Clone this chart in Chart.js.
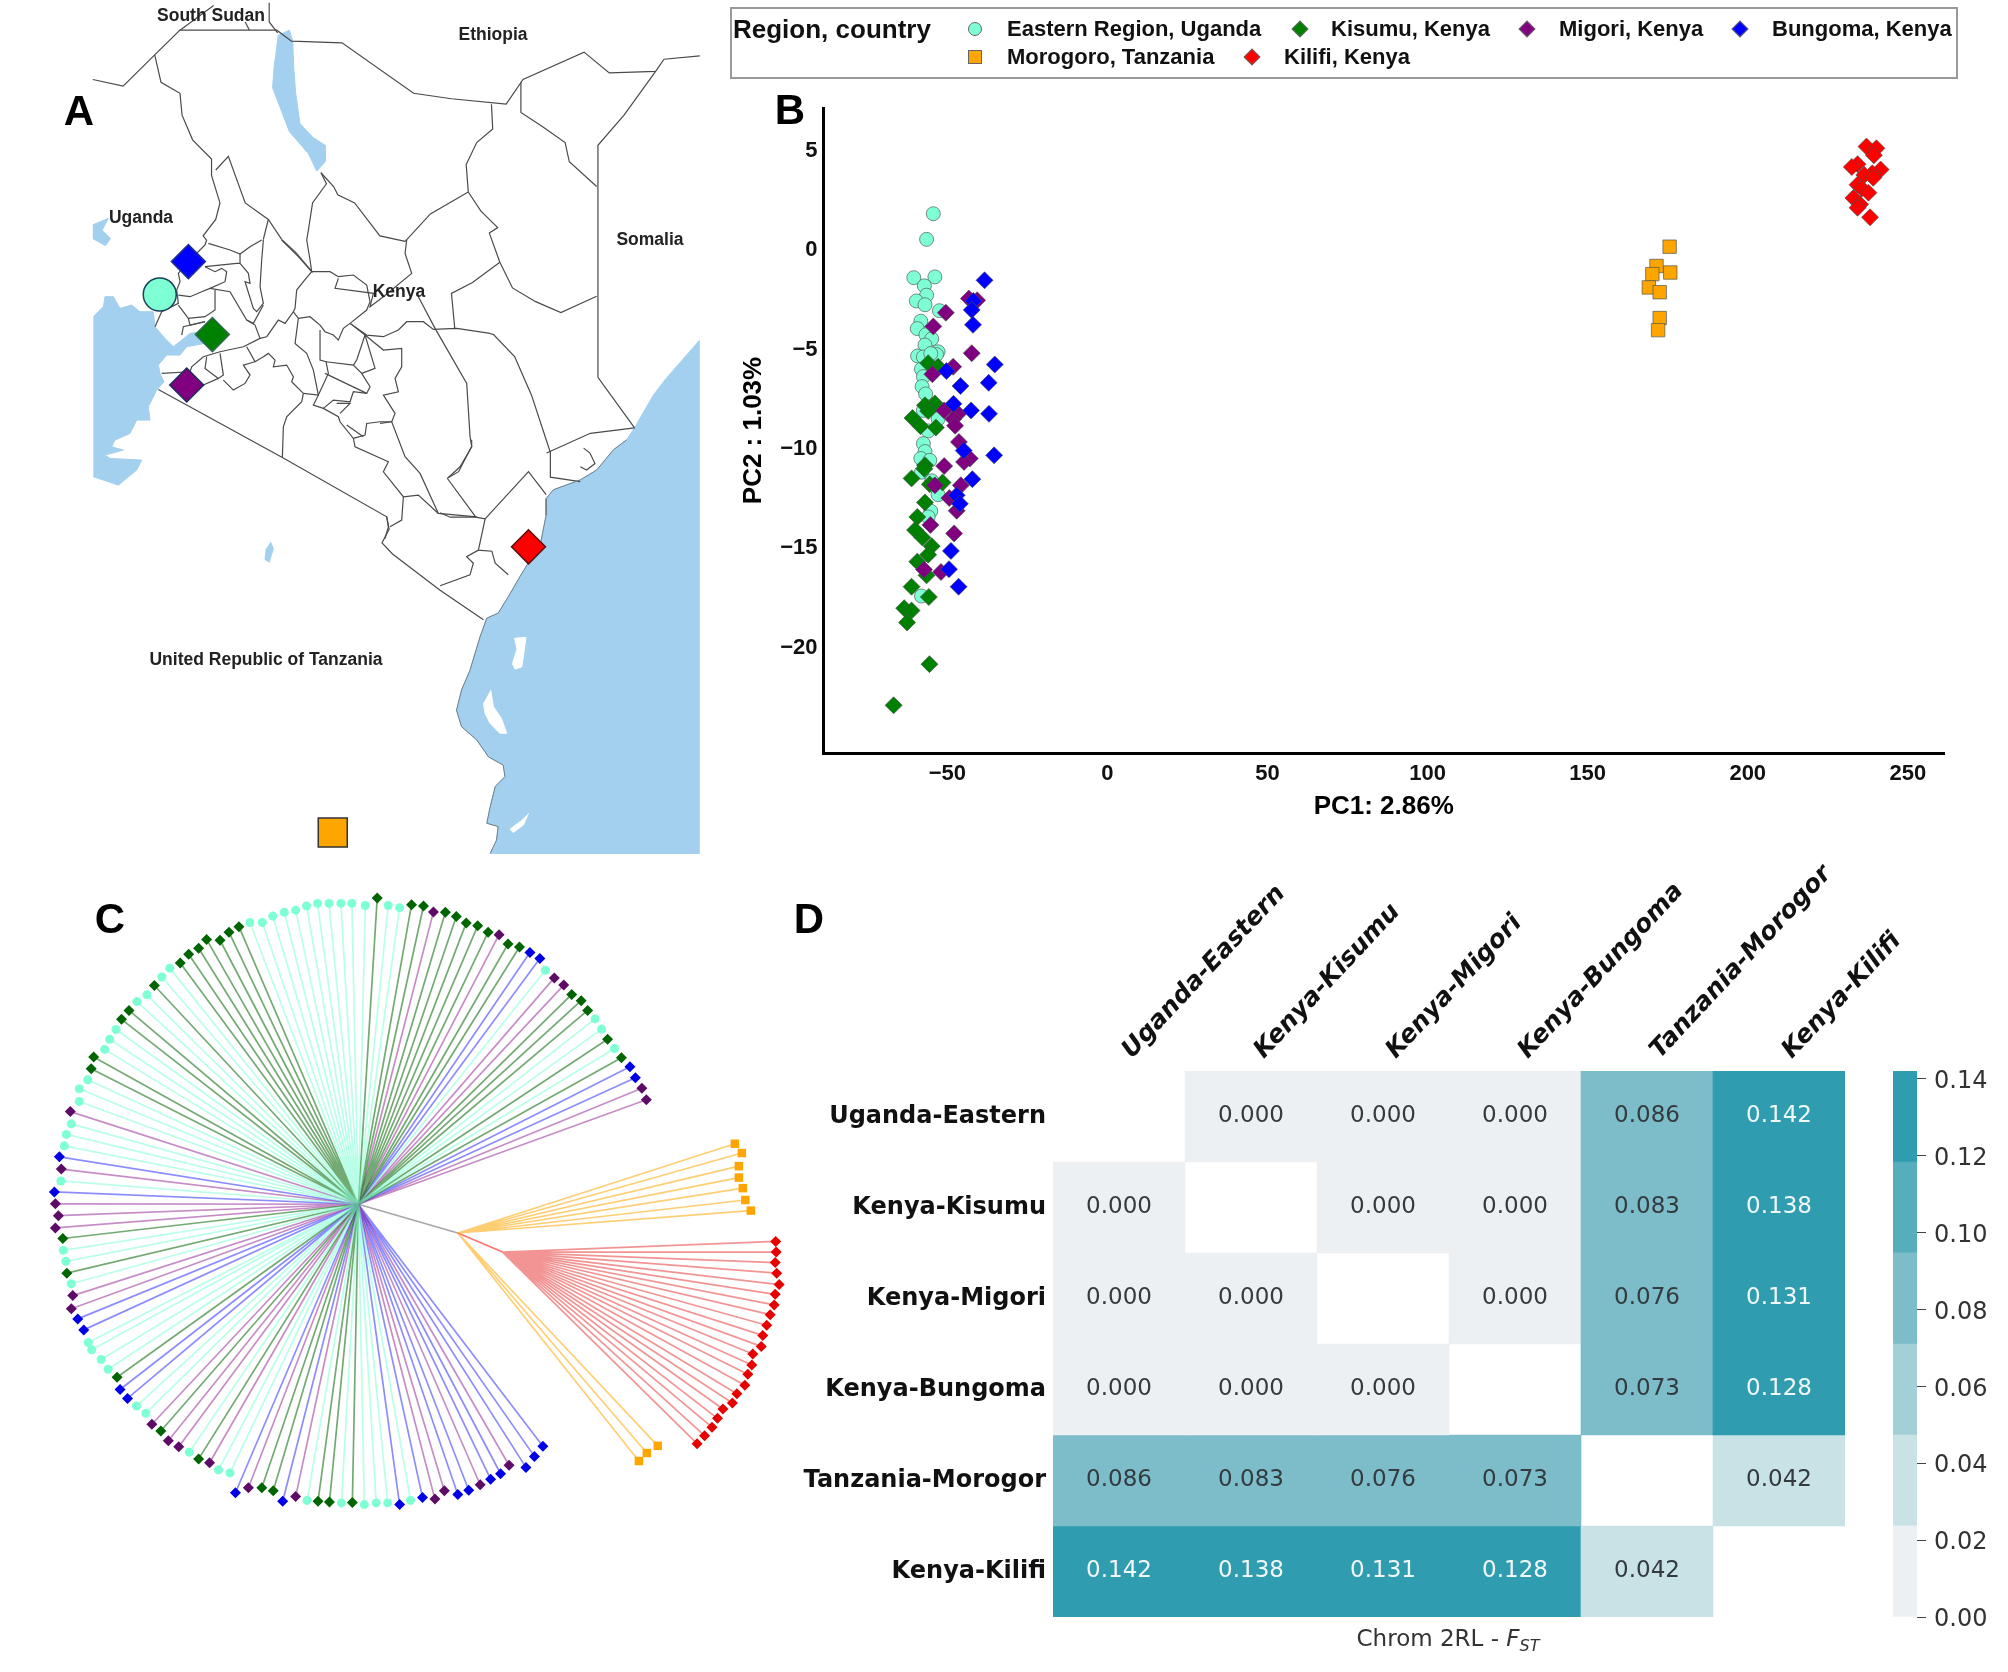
<!DOCTYPE html>
<html>
<head>
<meta charset="utf-8">
<title>Chrom 2RL population structure</title>
<script src="https://cdn.jsdelivr.net/npm/chart.js@4"></script>
<style>
  body { margin: 0; background: #fff; }
  #page { position: relative; width: 2008px; height: 1672px; overflow: hidden; font-family: "Liberation Sans", sans-serif; }
  canvas { position: absolute; }
  .txt { position: absolute; transform: translate(-50%, -50%); white-space: nowrap; font-weight: bold; color: #111; }
  .panel { font-size: 42px; color: #000; }
  .place { font-size: 17.5px; color: #222; }
  #legendBox { position: absolute; left: 730px; top: 7px; width: 1224px; height: 68px; border: 2px solid #999; box-sizing: content-box; }
  .key { position: absolute; white-space: nowrap; font-weight: bold; font-size: 22px; color: #111; transform: translateY(-50%); }
  .mark { position: absolute; transform: translate(-50%, -50%); box-sizing: border-box; border: 1px solid #666; }
  #fstLabel { font: 23px "DejaVu Sans", sans-serif; color: #333; }
  #fstLabel sub { font-size: 16px; }
</style>
</head>
<body>
<div id="page">
  <canvas id="mapChart" width="660" height="860" style="left:60px;top:0"></canvas>
  <canvas id="pcaChart" width="1240" height="740" style="left:730px;top:90px"></canvas>
  <canvas id="treeChart" width="780" height="660" style="left:30px;top:870px"></canvas>
  <canvas id="fstChart" width="1100" height="800" style="left:800px;top:850px"></canvas>
  <canvas id="barChart" width="128" height="590" style="left:1880px;top:1050px"></canvas>
  <div id="legendBox"></div>
  <div class="txt panel" style="left:79px;top:111px">A</div>
  <div class="txt panel" style="left:790px;top:110px">B</div>
  <div class="txt panel" style="left:110px;top:919px">C</div>
  <div class="txt panel" style="left:809px;top:919px">D</div>
  <div class="txt place" style="left:211px;top:15px">South Sudan</div>
  <div class="txt place" style="left:493px;top:34px">Ethiopia</div>
  <div class="txt place" style="left:141px;top:217px">Uganda</div>
  <div class="txt place" style="left:650px;top:239px">Somalia</div>
  <div class="txt place" style="left:399px;top:291px">Kenya</div>
  <div class="txt place" style="left:266px;top:659px">United Republic of Tanzania</div>
  <div class="txt" id="fstLabel" style="left:1448px;top:1640px;font-weight:normal">Chrom 2RL - <i>F<sub>ST</sub></i></div>
</div>
<script>
'use strict';

// ---- panel B, PCA values
const pcXTicks = [-50, 0, 50, 100, 150, 200, 250];
const pcYTicks = [-20, -15, -10, -5, 0, 5];

const pcUganda = [[-54.4,1.84],[-56.5,0.55],[-60.5,-1.38],[-53.9,-1.34],[-57.2,-1.79],[-56.5,-2.26],[-59.7,-2.55],[-57,-2.74],[-52.5,-3.04],[-58.3,-3.57],[-59.4,-3.94],[-56.7,-4.25],[-54.9,-4.46],[-57,-4.77],[-59.3,-5.32],[-57.5,-5.37],[-52.9,-5.11],[-53.4,-5.25],[-55.2,-5.2],[-58.1,-5.98],[-57.5,-6.36],[-57.9,-6.86],[-56.8,-7.23],[-56,-7.88],[-57.5,-8.06],[-52.9,-8.49],[-56,-9.09],[-57.5,-9.73],[-57,-10.13],[-58.3,-10.48],[-55.5,-10.57],[-58.1,-11.17],[-54.9,-11.6],[-52.9,-12.3],[-55.2,-13.13],[-56,-13.42],[-58.1,-17.4]];
const pcKisumu = [[-56,-5.68],[-52.9,-5.86],[-53.9,-7.71],[-57,-7.8],[-56,-8.09],[-60.9,-8.44],[-58.4,-8.85],[-53.6,-8.92],[-57,-10.82],[-57.2,-11],[-61.2,-11.48],[-51.5,-11.69],[-55.5,-11.78],[-57,-12.69],[-59.4,-13.42],[-60.1,-14.08],[-57.8,-14.46],[-54.9,-14.89],[-56,-15.32],[-59.4,-15.67],[-56.5,-16.36],[-61.2,-16.93],[-55.8,-17.45],[-63.5,-18.01],[-61.2,-18.13],[-62.6,-18.73],[-55.6,-20.83],[-66.8,-22.9]];
const pcMigori = [[-43.3,-2.43],[-40.7,-2.52],[-50.5,-3.14],[-54.4,-3.83],[-42.4,-5.18],[-48.2,-5.86],[-54.7,-6.24],[-51,-8.06],[-46.6,-8.23],[-48.2,-8.49],[-47.6,-8.83],[-46.4,-9.65],[-43,-10.48],[-44.8,-10.65],[-51,-10.86],[-53.9,-11.83],[-45.8,-11.83],[-49.4,-12.47],[-47.1,-13.11],[-55.3,-13.82],[-47.9,-14.25],[-57.3,-16.07],[-52,-16.19]];
const pcBungoma = [[-38.4,-1.51],[-41.9,-2.55],[-42.4,-3],[-42,-3.75],[-35.2,-5.75],[-50.3,-6.08],[-37.1,-6.67],[-45.9,-6.83],[-48.1,-7.73],[-42.6,-8.06],[-37,-8.23],[-44.9,-10.08],[-35.4,-10.32],[-42.2,-11.52],[-47.1,-12.33],[-46.1,-12.76],[-48.9,-15.13],[-49.5,-16.05],[-46.5,-16.93]];
const pcMorogoro = [[175.6,0.18],[171.5,-0.79],[170.2,-1.2],[175.8,-1.12],[169.1,-1.87],[172.5,-2.11],[172.5,-3.41],[172,-4.02]];
const pcKilifi = [[237.1,5.22],[240.2,5.13],[239.4,4.78],[234.3,4.33],[232.5,4.19],[241.5,4.06],[238.9,3.87],[236.4,3.79],[239.2,3.65],[234.3,3.3],[235.6,3.11],[237.7,2.9],[233,2.63],[235.1,2.31],[234.3,2.14],[238.2,1.66]];

// ---- panel D, pairwise Fst
const fstNames = ['Uganda-Eastern', 'Kenya-Kisumu', 'Kenya-Migori', 'Kenya-Bungoma', 'Tanzania-Morogor', 'Kenya-Kilifi'];
const fstRow1 = [null, 0.000, 0.000, 0.000, 0.086, 0.142];
const fstRow2 = [0.000, null, 0.000, 0.000, 0.083, 0.138];
const fstRow3 = [0.000, 0.000, null, 0.000, 0.076, 0.131];
const fstRow4 = [0.000, 0.000, 0.000, null, 0.073, 0.128];
const fstRow5 = [0.086, 0.083, 0.076, 0.073, null, 0.042];
const fstRow6 = [0.142, 0.138, 0.131, 0.128, 0.042, null];
const barTicks = [0, 0.02, 0.04, 0.06, 0.08, 0.10, 0.12, 0.14];
const barEdges = [0, 0.0237, 0.0473, 0.071, 0.0947, 0.1183, 0.142];
const barColors = ['#edf0f3', '#c8e2e6', '#a3d0d7', '#7dbcc9', '#56aebd', '#2f9caf'];

// ---- panel C, tree tips (tree units)
const treeRoot = [660, 790];
const treeSplit = [860, 858];
const treeRedRoot = [950, 903];
const tipUganda = [[720,84],[743,89],[1036,237],[1136,352],[1149,376],[1175,422],[674,84],[647,79],[625,79],[601,79],[578,79],[556,85],[534,95],[511,100],[488,109],[467,124],[442,124],[281,232],[265,253],[235,295],[215,311],[173,377],[160,400],[150,424],[116,496],[99,517],[99,547],[83,600],[73,625],[69,652],[62,735],[67,899],[72,925],[83,978],[117,1117],[124,1134],[143,1157],[157,1180],[214,1267],[233,1284],[320,1376],[379,1418],[402,1425],[557,1490],[626,1496],[672,1500],[696,1496],[719,1496],[765,1490]];
const tipKisumu = [[698,66],[767,82],[791,85],[835,100],[857,110],[877,125],[900,132],[921,147],[961,175],[984,182],[1089,294],[1108,309],[1121,332],[1161,400],[1189,444],[420,134],[400,147],[382,166],[355,164],[339,185],[319,199],[302,220],[250,273],[199,332],[184,353],[128,442],[123,470],[66,871],[74,953],[175,1199],[263,1326],[339,1392],[466,1460],[489,1467],[579,1492],[602,1494],[648,1495]];
const tipMigori = [[811,99],[943,153],[1054,255],[1073,272],[1230,516],[1239,543],[81,571],[63,707],[51,789],[57,817],[51,846],[86,1006],[83,1037],[245,1310],[278,1349],[299,1363],[361,1401],[439,1460],[534,1481],[814,1487],[833,1467],[905,1453],[963,1407]];
const tipBungoma = [[1005,195],[1025,209],[1206,465],[1217,491],[59,678],[49,761],[96,1061],[108,1087],[181,1228],[196,1249],[413,1472],[508,1492],[743,1500],[789,1483],[860,1476],[882,1466],[926,1440],[946,1427],[997,1412],[1014,1386],[1031,1362]];
const tipMorogoro = [[1417,647],[1431,669],[1425,700],[1425,727],[1433,752],[1438,780],[1449,805],[1262,1361],[1240,1378],[1224,1397]];
const tipKilifi = [[1499,878],[1500,903],[1498,928],[1501,953],[1506,980],[1498,1003],[1496,1028],[1488,1051],[1481,1076],[1473,1100],[1470,1126],[1453,1144],[1451,1170],[1443,1192],[1437,1218],[1421,1238],[1412,1260],[1393,1274],[1382,1296],[1371,1317],[1356,1337],[1341,1356]];

// ---- panel A, map outlines and sites (map units)
const coastLine = [[1346,802],[1315,820],[1275,857],[1236,875],[1204,884],[1172,893],[1155,909],[1155,939],[1148,966],[1140,997],[1117,1021],[1093,1051],[1065,1088],[1041,1118],[1014,1127],[998,1161],[974,1222],[954,1258],[942,1295],[954,1325],[990,1349],[1018,1380],[1053,1395],[1057,1416],[1034,1434],[1022,1471],[1014,1501],[1041,1507],[1037,1532],[1022,1556]];
const seaNorth = [[1520,620],[1440,690],[1410,720],[1365,780]];
const seaCorner = [[1520,1556]];
const lakeTurkana = [[517,65],[545,55],[553,75],[555,120],[560,170],[570,225],[600,250],[630,265],[630,295],[610,312],[590,280],[545,240],[525,200],[505,160],[510,110]];
const lakeKyoga = [[78,410],[115,398],[100,420],[120,435],[108,448],[78,435]];
const lakeSmall = [[500,988],[507,1000],[497,1025],[487,1020],[490,1000]];
const islandPemba = [[1079,1164],[1107,1162],[1102,1191],[1097,1216],[1081,1220],[1075,1210],[1085,1185]];
const islandZanzibar = [[1023,1258],[1030,1289],[1049,1310],[1061,1337],[1045,1337],[1022,1319],[1010,1301],[1006,1282]];
const islandMafia = [[1113,1483],[1101,1504],[1077,1518],[1069,1512],[1093,1498]];
const mapBorders = [
  [[776,942],[782,965],[765,990],[790,1010],[903,1076],[1006,1130]],
  [[78,145],[150,157],[225,100],[285,55],[515,55],[550,75],[670,78],[840,170],[930,180],[1060,190],[1100,145],[1245,95],[1305,133],[1415,130],[1435,108],[1520,102]],
  [[285,55],[365,10]], [[497,5],[497,40],[517,60]], [[440,40],[450,55]],
  [[225,100],[240,150],[285,170],[290,210],[315,255],[360,290],[360,320],[380,370],[370,400],[340,430],[348,438]],
  [[1415,130],[1340,210],[1278,265],[1278,688],[1365,780]],
  [[1095,150],[1095,205],[1145,230],[1200,260],[1210,295],[1275,340]],
  [[1025,190],[1028,235],[990,260],[965,300],[970,350],[880,390],[820,440]],
  [[970,350],[1000,385],[1040,415],[1020,425],[1045,478],[1075,525],[1130,550],[1190,570],[1275,540]],
  [[1045,478],[980,515],[930,535],[938,600]],
  [[620,315],[650,340],[660,355],[700,370],[760,430],[820,440]],
  [[620,315],[633,335],[600,370],[590,420],[586,438]],
  [[598,495],[560,460],[527,437]],
  [[527,437],[495,400],[440,370],[400,285],[370,310]],
  [[495,400],[483,437]],
  [[1021,608],[1030,610],[1080,650],[1120,720],[1150,790],[1165,825],[1165,870],[1236,878]],
  [[1156,826],[1260,790],[1365,780]],
  [[920,872],[947,860],[978,814],[978,802]],
  [[920,872],[988,943],[1010,946],[1113,860],[1155,902]],
  [[903,935],[927,943],[988,943]],
  [[1010,946],[994,1003],[1026,1005],[1034,1027],[1065,1048]],
  [[994,1003],[966,1015],[982,1027],[974,1048],[903,1068]],
  [[1244,817],[1259,826],[1271,845],[1251,857],[1236,851]]
];

// west of the map, traced at a finer grain (crop units, see fromWestCrop)
const lakeVictoriaCrop = [[10,230],[40,200],[45,170],[70,170],[90,205],[125,195],[150,215],[190,215],[195,260],[225,295],[250,320],[300,280],[330,275],[345,310],[290,320],[270,345],[230,345],[205,375],[210,400],[222,425],[200,450],[175,500],[180,540],[140,540],[120,580],[75,600],[65,620],[100,630],[45,645],[60,655],[155,660],[140,690],[85,735],[40,720],[10,710]];
const westBorders = [
  [[205,448],[577,652],[890,830],[895,860],[885,895]],
  [[355,10],[420,30],[450,42],[480,20],[515,0]],
  [[350,0],[345,15],[300,60],[265,100],[270,125],[260,150],[265,190],[215,215],[195,260]],
  [[345,80],[375,95],[395,85],[410,95],[405,125],[360,145],[335,155],[300,170],[265,165]],
  [[450,42],[450,70],[475,100],[480,130],[465,125],[490,205],[500,215],[520,190],[510,140],[515,60],[520,0]],
  [[345,80],[440,70],[450,70]],
  [[360,145],[420,155],[470,240],[490,250],[520,195]],
  [[375,150],[375,210],[345,230],[295,235],[265,195]],
  [[295,235],[300,255],[345,245]],
  [[275,285],[280,260],[345,245]],
  [[470,240],[495,255],[510,295],[460,320],[390,335],[340,350],[305,380],[300,395],[215,400]],
  [[350,350],[345,385],[385,415],[400,405],[390,340]],
  [[385,415],[340,435]],
  [[400,420],[430,450],[465,430],[480,405],[460,375],[495,365],[470,320]],
  [[495,365],[520,350],[535,340],[555,360],[550,380],[590,375],[610,410],[605,425],[640,460],[635,485],[590,530],[580,560],[577,652]],
  [[510,295],[530,290],[565,240],[585,250],[610,215],[625,235],[615,310],[650,340],[670,390],[685,465],[640,460]],
  [[665,95],[640,125],[620,150],[615,205],[610,215]],
  [[575,0],[625,50],[665,95],[660,60],[650,0]],
  [[665,95],[720,95],[745,110],[790,105],[830,135],[840,185],[830,210],[780,250],[760,265],[745,300],[730,285],[705,275],[690,255],[660,230],[625,235]],
  [[745,115],[735,145],[850,160],[840,200],[880,170],[965,100],[945,40],[950,0]],
  [[780,250],[825,285],[800,360],[790,375]],
  [[825,285],[855,385],[815,400]],
  [[825,285],[880,330],[935,325],[935,380],[915,415],[925,455],[880,465],[915,520],[905,545],[870,550]],
  [[780,250],[830,285],[880,290],[925,270],[950,245],[1000,245],[1030,268],[1100,265],[1200,280]],
  [[985,170],[1035,265],[1130,430],[1140,590],[1145,620],[1110,680],[1075,712]],
  [[690,270],[690,360],[708,365],[715,400],[685,465],[670,495],[700,505],[745,530],[750,545],[790,595],[795,620],[895,665],[880,695],[940,770],[935,840],[900,860]],
  [[708,365],[790,375],[815,400],[840,440],[830,460],[790,455],[780,485],[730,480],[700,505]],
  [[705,400],[830,460]],
  [[750,520],[780,490],[740,490]],
  [[790,595],[825,585],[830,550],[870,545],[905,545],[945,650],[990,700],[1045,820],[1160,830]],
  [[940,770],[985,765],[1045,820]],
  [[770,555],[820,590]]
];
const siteUganda = [[237,537]];
const siteKisumu = [[362,610]];
const siteMigori = [[301,702]];
const siteBungoma = [[305,477]];
const siteMorogoro = [[648,1518]];
const siteKilifi = [[1113,997]];

const legendNames = ['Eastern Region, Uganda', 'Kisumu, Kenya', 'Migori, Kenya', 'Bungoma, Kenya', 'Morogoro, Tanzania', 'Kilifi, Kenya'];

Chart.defaults.font.family = '"Liberation Sans", sans-serif';
Chart.defaults.animation = false;
Chart.defaults.responsive = false;
Chart.defaults.devicePixelRatio = 1;
Chart.defaults.layout.autoPadding = false;
Chart.defaults.plugins.legend.display = false;
Chart.defaults.plugins.tooltip.enabled = false;

function toPoints(list) {
  return list.map(function (p) { return { x: p[0], y: p[1] }; });
}

function fromWestCrop(list) {
  return list.map(function (p) { return [71.3 + 0.792 * p[0], 437.6 + 0.608 * p[1]]; });
}

function hiddenAxis(max, reverse) {
  return { type: 'linear', display: false, min: 0, max: max, reverse: reverse };
}

// ---- map
function shapeSet(list, color, order) {
  return { data: toPoints(list), showLine: true, fill: 'shape', backgroundColor: color, borderColor: color, borderWidth: 1, pointRadius: 0, order: order };
}
function lineSet(list, color, width) {
  return { data: toPoints(list), showLine: true, borderColor: color, borderWidth: width, pointRadius: 0, order: 5 };
}
function siteSet(list, style, radius, color, edge) {
  return { data: toPoints(list), pointStyle: style, pointRadius: radius, backgroundColor: color, borderColor: edge, borderWidth: 1.5, order: 1 };
}
let mapSets = [
  shapeSet(seaNorth.concat(coastLine, seaCorner), '#a3d0ee', 9),
  shapeSet(islandPemba, '#fff', 8),
  shapeSet(islandZanzibar, '#fff', 8),
  shapeSet(islandMafia, '#fff', 8),
  shapeSet(lakeTurkana, '#a3d0ee', 8),
  shapeSet(fromWestCrop(lakeVictoriaCrop), '#a3d0ee', 8),
  shapeSet(lakeKyoga, '#a3d0ee', 8),
  shapeSet(lakeSmall, '#a3d0ee', 8),
  lineSet(coastLine, '#6f7f88', 1)
];
mapBorders.forEach(function (line) {
  mapSets.push(lineSet(line, '#4a4a4a', 1.2));
});
westBorders.forEach(function (line) {
  mapSets.push(lineSet(fromWestCrop(line), '#4a4a4a', 1.2));
});
mapSets.push(siteSet(siteUganda, 'circle', 16.5, '#7fffd4', '#1c3f5a'));
mapSets.push(siteSet(siteKisumu, 'rectRot', 17, '#008000', '#2f6a50'));
mapSets.push(siteSet(siteMigori, 'rectRot', 17, '#800080', '#1c2f5a'));
mapSets.push(siteSet(siteBungoma, 'rectRot', 17, '#0000ff', '#1c2f8a'));
mapSets.push(siteSet(siteMorogoro, 'rect', 20.5, '#ffa500', '#333'));
mapSets.push(siteSet(siteKilifi, 'rectRot', 17, '#ff0000', '#5a1010'));

new Chart(document.getElementById('mapChart'), {
  type: 'scatter',
  data: { datasets: mapSets },
  options: { scales: { x: hiddenAxis(1568, false), y: hiddenAxis(1568, true) } }
});

// ---- PCA
function pcSet(list, style, radius, color, order) {
  return { data: toPoints(list), pointStyle: style, pointRadius: radius, backgroundColor: color, borderColor: 'rgba(70,80,80,0.65)', borderWidth: 1, order: order };
}
new Chart(document.getElementById('pcaChart'), {
  type: 'scatter',
  data: {
    datasets: [
      pcSet(pcUganda, 'circle', 7, '#7fffd4', 6),
      pcSet(pcKisumu, 'rectRot', 8.5, '#008000', 5),
      pcSet(pcMigori, 'rectRot', 8.5, '#800080', 4),
      pcSet(pcBungoma, 'rectRot', 8.5, '#0000ff', 3),
      pcSet(pcMorogoro, 'rect', 9.5, '#ffa500', 2),
      pcSet(pcKilifi, 'rectRot', 8.5, '#ff0000', 1)
    ]
  },
  options: {
    layout: { padding: { top: 18, right: 26 } },
    scales: {
      x: {
        type: 'linear', min: -88.7, max: 261.3,
        grid: { display: false, drawTicks: false },
        border: { color: '#000', width: 3 },
        title: { display: true, text: 'PC1: 2.86%', color: '#000', font: { size: 26, weight: 'bold' }, padding: { top: 8, bottom: 8 } },
        ticks: { color: '#111', font: { size: 22, weight: 'bold' }, padding: 8, maxRotation: 0,
          callback: function (v) { return String(v).replace('-', '\u2212'); } },
        afterBuildTicks: function (s) { s.ticks = pcXTicks.map(function (v) { return { value: v }; }); },
        afterFit: function (s) { s.height = 77; s.paddingLeft = 0; s.paddingRight = 0; }
      },
      y: {
        type: 'linear', min: -25.3, max: 7.16,
        grid: { display: false, drawTicks: false },
        border: { color: '#000', width: 3 },
        title: { display: true, text: 'PC2 : 1.03%', color: '#000', font: { size: 26, weight: 'bold' }, padding: { top: 8, bottom: 8 } },
        ticks: { color: '#111', font: { size: 22, weight: 'bold' }, padding: 6,
          callback: function (v) { return String(v).replace('-', '\u2212'); } },
        afterBuildTicks: function (s) { s.ticks = pcYTicks.map(function (v) { return { value: v }; }); },
        afterFit: function (s) { s.width = 93.5; s.paddingTop = 0; s.paddingBottom = 0; }
      }
    }
  }
});

// ---- tree
function branchSet(root, tips, color) {
  let pts = [];
  tips.forEach(function (t) {
    pts.push({ x: root[0], y: root[1] }, { x: t[0], y: t[1] }, { x: null, y: null });
  });
  return { data: pts, showLine: true, borderColor: color, borderWidth: 1.7, pointRadius: 0, order: 3 };
}
function tipSet(tips, style, radius, color) {
  return { data: toPoints(tips), pointStyle: style, pointRadius: radius, backgroundColor: color, borderWidth: 0, order: 1 };
}
new Chart(document.getElementById('treeChart'), {
  type: 'scatter',
  data: {
    datasets: [
      branchSet(treeRoot, tipUganda, 'rgba(127,255,212,0.55)'),
      branchSet(treeRoot, tipKisumu, 'rgba(0,100,0,0.55)'),
      branchSet(treeRoot, tipMigori, 'rgba(128,0,128,0.45)'),
      branchSet(treeRoot, tipBungoma, 'rgba(0,0,255,0.45)'),
      branchSet(treeSplit, tipMorogoro, 'rgba(255,165,0,0.55)'),
      branchSet(treeRedRoot, tipKilifi, 'rgba(225,0,0,0.42)'),
      branchSet(treeRoot, [treeSplit], 'rgba(130,130,130,0.7)'),
      branchSet(treeSplit, [treeRedRoot], 'rgba(255,0,0,0.55)'),
      tipSet(tipUganda, 'circle', 4.5, '#7fffd4'),
      tipSet(tipKisumu, 'rectRot', 5.5, '#006400'),
      tipSet(tipMigori, 'rectRot', 5.5, '#5e0b68'),
      tipSet(tipBungoma, 'rectRot', 5.5, '#0000e6'),
      tipSet(tipMorogoro, 'rect', 6, '#ffa500'),
      tipSet(tipKilifi, 'rectRot', 5.5, '#e60000')
    ]
  },
  options: { scales: { x: hiddenAxis(1568, false), y: hiddenAxis(1560, true) } }
});

// ---- heatmap, one dataset per row of floating bars
const fstRows = [fstRow1, fstRow2, fstRow3, fstRow4, fstRow5, fstRow6];
function binColor(v) {
  let i = 0;
  while (i < barColors.length - 1 && v >= barEdges[i + 1]) i++;
  return barColors[i];
}
const cellText = {
  id: 'cellText',
  afterDatasetsDraw: function (chart) {
    const ctx = chart.ctx;
    const xs = chart.scales.x;
    const ys = chart.scales.y;
    ctx.save();
    ctx.font = '23px "DejaVu Sans", sans-serif';
    ctx.textAlign = 'center';
    ctx.textBaseline = 'middle';
    fstRows.forEach(function (row, r) {
      row.forEach(function (v, c) {
        if (v === null) return;
        ctx.fillStyle = v > 0.1 ? '#f2f8f9' : '#333b3e';
        ctx.fillText(v.toFixed(3), xs.getPixelForValue(c), ys.getPixelForValue(r + 0.5));
      });
    });
    ctx.restore();
  }
};
new Chart(document.getElementById('fstChart'), {
  type: 'bar',
  data: {
    labels: fstNames,
    datasets: fstRows.map(function (row, r) {
      return {
        data: row.map(function (v) { return v === null ? null : [r, r + 1]; }),
        backgroundColor: row.map(function (v) { return v === null ? '#fff' : binColor(v); }),
        borderWidth: 0, barPercentage: 1, categoryPercentage: 1, grouped: false
      };
    })
  },
  plugins: [cellText],
  options: {
    layout: { padding: { right: 55, bottom: 33 } },
    scales: {
      x: {
        position: 'top',
        grid: { display: false, drawTicks: false },
        border: { display: false },
        ticks: { autoSkip: false, minRotation: 47, maxRotation: 47, padding: 6, labelOffset: 30, color: '#111',
          font: { family: '"DejaVu Sans", sans-serif', size: 25, weight: 'bold', style: 'italic' } },
        afterFit: function (s) { s.height = 221; s.paddingLeft = 0; s.paddingRight = 0; }
      },
      y: {
        type: 'linear', min: 0, max: 6, reverse: true,
        grid: { display: false, drawTicks: false },
        border: { display: false },
        ticks: { padding: 7, color: '#111',
          font: { family: '"DejaVu Sans", sans-serif', size: 24, weight: 'bold' },
          callback: function (v) { return fstNames[Math.floor(v)]; } },
        afterBuildTicks: function (s) { s.ticks = fstNames.map(function (n, i) { return { value: i + 0.5 }; }); },
        afterFit: function (s) { s.width = 253; s.paddingTop = 0; s.paddingBottom = 0; }
      }
    }
  }
});

// ---- colour bar
new Chart(document.getElementById('barChart'), {
  type: 'bar',
  data: {
    labels: [''],
    datasets: barColors.map(function (c, i) {
      return { data: [[barEdges[i], barEdges[i + 1]]], backgroundColor: c, borderWidth: 0, barPercentage: 1, categoryPercentage: 1, grouped: false };
    })
  },
  options: {
    layout: { padding: { left: 13, top: 21, bottom: 23 } },
    scales: {
      x: { display: false },
      y: {
        type: 'linear', position: 'right', min: 0, max: 0.142,
        grid: { drawOnChartArea: false, drawTicks: true, tickLength: 9, color: '#444' },
        border: { display: false },
        ticks: { padding: 8, labelOffset: 3, color: '#333', font: { family: '"DejaVu Sans", sans-serif', size: 24 },
          callback: function (v) { return v.toFixed(2); } },
        afterBuildTicks: function (s) { s.ticks = barTicks.map(function (v) { return { value: v }; }); },
        afterFit: function (s) { s.width = 91; s.paddingTop = 0; s.paddingBottom = 0; }
      }
    }
  }
});

// ---- legend box above panel B
const page = document.getElementById('page');
const legendStyles = ['circle', 'diamond', 'diamond', 'diamond', 'square', 'diamond'];
const legendColors = ['#7fffd4', '#008000', '#800080', '#0000ff', '#ffa500', '#ff0000'];
const legendMarkX = [975, 1300, 1527, 1740, 975, 1252];
const legendTextX = [1007, 1331, 1559, 1772, 1007, 1284];
const legendRowY = [29, 29, 29, 29, 57, 57];
function addKey(text, x, y, size) {
  let d = document.createElement('div');
  d.className = 'key';
  d.textContent = text;
  d.style.left = x + 'px';
  d.style.top = y + 'px';
  if (size) d.style.fontSize = size + 'px';
  page.appendChild(d);
}
addKey('Region, country', 733, 29, 26);
legendNames.forEach(function (name, i) {
  let m = document.createElement('div');
  m.className = 'mark';
  m.style.left = legendMarkX[i] + 'px';
  m.style.top = legendRowY[i] + 'px';
  m.style.background = legendColors[i];
  m.style.width = '14px';
  m.style.height = '14px';
  if (legendStyles[i] === 'circle') m.style.borderRadius = '50%';
  if (legendStyles[i] === 'diamond') {
    m.style.width = '12px';
    m.style.height = '12px';
    m.style.transform = 'translate(-50%, -50%) rotate(45deg)';
  }
  page.appendChild(m);
  addKey(name, legendTextX[i], legendRowY[i]);
});
</script>
</body>
</html>
